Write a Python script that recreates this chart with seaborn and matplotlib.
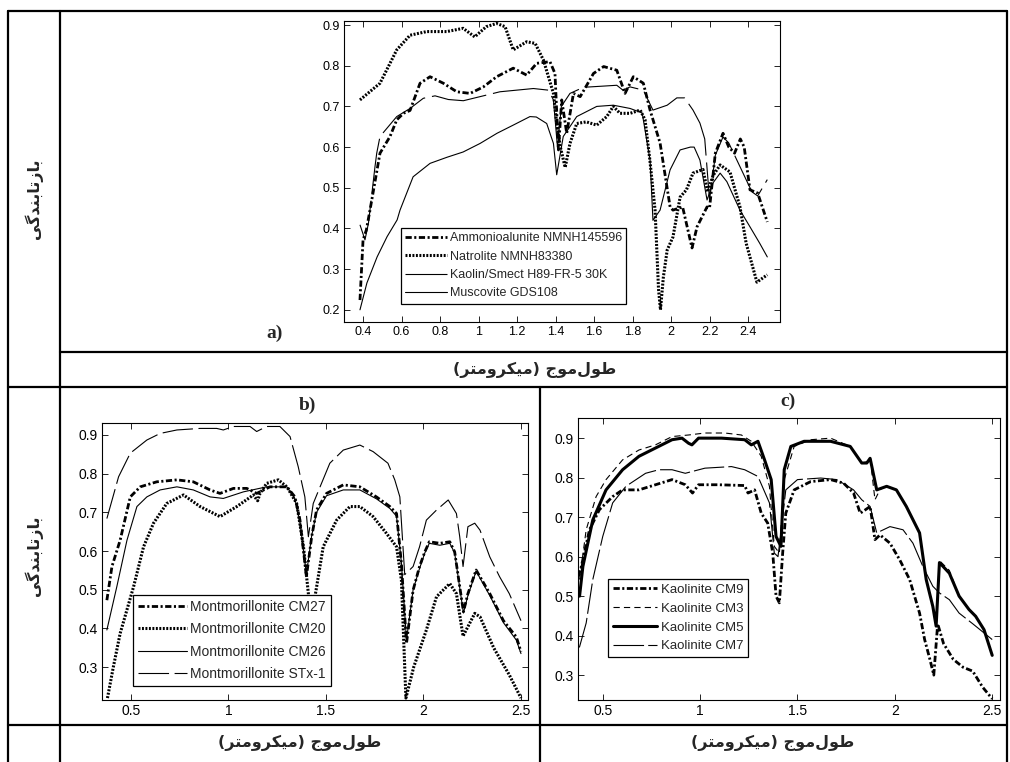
import matplotlib
matplotlib.use("Agg")
import matplotlib.pyplot as plt
import seaborn as sns

# ---- panel a: spectra ----
ammon_x = [0.384, 0.40, 0.417, 0.436, 0.488, 0.54, 0.575, 0.61, 0.644, 0.696, 0.748, 0.817, 0.887, 0.956,
           1.025, 1.094, 1.18, 1.25, 1.302, 1.371, 1.397, 1.415, 1.432, 1.458, 1.493, 1.528, 1.597, 1.65,
           1.718, 1.761, 1.804, 1.856, 1.891, 1.943, 1.995, 2.01, 2.06, 2.109, 2.135, 2.187, 2.2, 2.23,
           2.27, 2.30, 2.33, 2.36, 2.38, 2.41, 2.45, 2.5]
ammon_y = [0.224, 0.372, 0.396, 0.445, 0.585, 0.626, 0.667, 0.683, 0.69, 0.757, 0.773, 0.757, 0.736, 0.732,
           0.748, 0.773, 0.794, 0.777, 0.806, 0.81, 0.781, 0.593, 0.716, 0.634, 0.732, 0.724, 0.781, 0.798,
           0.789, 0.732, 0.773, 0.757, 0.691, 0.61, 0.453, 0.445, 0.453, 0.352, 0.404, 0.453, 0.45, 0.585,
           0.634, 0.60, 0.585, 0.62, 0.60, 0.495, 0.487, 0.416]

natro_x = [0.384, 0.488, 0.575, 0.644, 0.73, 0.835, 0.92, 0.98, 1.04, 1.094, 1.138, 1.18, 1.25, 1.294,
           1.337, 1.389, 1.406, 1.425, 1.45, 1.475, 1.51, 1.56, 1.614, 1.666, 1.70, 1.735, 1.787, 1.84,
           1.865, 1.89, 1.917, 1.935, 1.945, 1.96, 1.98, 2.01, 2.047, 2.08, 2.114, 2.166, 2.19, 2.218,
           2.255, 2.306, 2.358, 2.39, 2.446, 2.5]
natro_y = [0.716, 0.757, 0.839, 0.875, 0.884, 0.884, 0.892, 0.871, 0.896, 0.904, 0.896, 0.839, 0.859, 0.855,
           0.814, 0.732, 0.658, 0.60, 0.55, 0.609, 0.658, 0.662, 0.654, 0.675, 0.70, 0.683, 0.683, 0.691,
           0.667, 0.568, 0.445, 0.25, 0.20, 0.28, 0.347, 0.379, 0.477, 0.495, 0.536, 0.545, 0.49, 0.53,
           0.556, 0.539, 0.453, 0.364, 0.268, 0.286]

ks_x = [0.384, 0.41, 0.428, 0.462, 0.471, 0.488, 0.575, 0.644, 0.713, 0.774, 0.843, 0.921, 1.042, 1.111,
        1.285, 1.363, 1.389, 1.41, 1.43, 1.475, 1.545, 1.65, 1.718, 1.75, 1.787, 1.856, 1.906, 1.98, 2.03,
        2.07, 2.114, 2.15, 2.175, 2.2, 2.23, 2.27, 2.30, 2.34, 2.38, 2.42, 2.45, 2.5]
ks_y = [0.409, 0.372, 0.413, 0.552, 0.585, 0.626, 0.675, 0.695, 0.72, 0.726, 0.717, 0.714, 0.728, 0.736,
        0.744, 0.74, 0.716, 0.60, 0.70, 0.732, 0.747, 0.75, 0.752, 0.74, 0.748, 0.74, 0.691, 0.703, 0.721,
        0.721, 0.691, 0.659, 0.62, 0.47, 0.58, 0.625, 0.61, 0.57, 0.53, 0.49, 0.48, 0.52]

mus_x = [0.384, 0.42, 0.473, 0.525, 0.577, 0.592, 0.66, 0.748, 0.836, 0.92, 1.008, 1.096, 1.18, 1.267,
         1.30, 1.354, 1.389, 1.406, 1.44, 1.51, 1.614, 1.70, 1.787, 1.85, 1.891, 1.906, 1.943, 1.995,
         2.047, 2.1, 2.12, 2.15, 2.187, 2.218, 2.255, 2.29, 2.358, 2.41, 2.46, 2.5]
mus_y = [0.20, 0.266, 0.33, 0.38, 0.421, 0.445, 0.527, 0.56, 0.575, 0.588, 0.609, 0.634, 0.654, 0.675,
         0.674, 0.658, 0.609, 0.532, 0.626, 0.675, 0.70, 0.703, 0.695, 0.684, 0.568, 0.42, 0.445, 0.544,
         0.593, 0.60, 0.60, 0.568, 0.47, 0.512, 0.536, 0.515, 0.445, 0.404, 0.364, 0.33]

# ---- panel b: montmorillonites ----
cm27_x = [0.377, 0.403, 0.445, 0.497, 0.548, 0.633, 0.736, 0.82, 0.906, 0.957, 1.026, 1.094, 1.145, 1.213,
          1.3, 1.341, 1.367, 1.40, 1.427, 1.452, 1.503, 1.589, 1.674, 1.759, 1.828, 1.862, 1.887, 1.913,
          1.947, 1.98, 2.007, 2.03, 2.084, 2.135, 2.16, 2.186, 2.205, 2.228, 2.27, 2.34, 2.41, 2.476, 2.50]
cm27_y = [0.473, 0.56, 0.628, 0.74, 0.766, 0.779, 0.784, 0.779, 0.758, 0.749, 0.762, 0.762, 0.749, 0.766,
          0.766, 0.74, 0.68, 0.534, 0.637, 0.706, 0.749, 0.771, 0.766, 0.74, 0.715, 0.697, 0.568, 0.361,
          0.499, 0.56, 0.598, 0.624, 0.62, 0.624, 0.598, 0.508, 0.443, 0.49, 0.551, 0.49, 0.42, 0.378, 0.34]

cm20_x = [0.38, 0.41, 0.445, 0.514, 0.565, 0.616, 0.684, 0.77, 0.855, 0.957, 1.043, 1.128, 1.15, 1.162,
          1.196, 1.256, 1.3, 1.35, 1.385, 1.41, 1.42, 1.44, 1.486, 1.555, 1.623, 1.674, 1.742, 1.81, 1.862,
          1.887, 1.91, 1.95, 2.015, 2.067, 2.135, 2.169, 2.203, 2.263, 2.29, 2.36, 2.44, 2.5]
cm20_y = [0.22, 0.30, 0.387, 0.508, 0.611, 0.672, 0.723, 0.745, 0.715, 0.689, 0.715, 0.745, 0.73, 0.749,
          0.775, 0.784, 0.766, 0.723, 0.611, 0.49, 0.38, 0.47, 0.611, 0.68, 0.715, 0.715, 0.689, 0.646, 0.611,
          0.525, 0.22, 0.30, 0.396, 0.482, 0.516, 0.49, 0.38, 0.439, 0.43, 0.35, 0.28, 0.22]

cm26_x = [0.377, 0.428, 0.48, 0.531, 0.582, 0.65, 0.736, 0.82, 0.906, 0.974, 1.077, 1.196, 1.3, 1.341,
          1.367, 1.40, 1.427, 1.452, 1.503, 1.589, 1.674, 1.759, 1.828, 1.862, 1.887, 1.913, 1.947, 1.98,
          2.007, 2.03, 2.084, 2.135, 2.16, 2.186, 2.205, 2.228, 2.27, 2.34, 2.41, 2.476, 2.50]
cm26_y = [0.396, 0.508, 0.628, 0.715, 0.74, 0.758, 0.766, 0.758, 0.74, 0.736, 0.753, 0.766, 0.766, 0.735,
          0.675, 0.54, 0.64, 0.70, 0.743, 0.758, 0.758, 0.735, 0.71, 0.69, 0.57, 0.37, 0.50, 0.555,
          0.595, 0.62, 0.615, 0.62, 0.595, 0.505, 0.44, 0.485, 0.548, 0.485, 0.415, 0.37, 0.335]

stx_x = [0.377, 0.437, 0.497, 0.582, 0.65, 0.736, 0.855, 0.94, 0.974, 1.026, 1.111, 1.145, 1.196, 1.264,
         1.316, 1.358, 1.392, 1.41, 1.435, 1.47, 1.52, 1.589, 1.674, 1.742, 1.818, 1.853, 1.879, 1.904,
         1.947, 1.98, 2.015, 2.067, 2.127, 2.169, 2.186, 2.203, 2.228, 2.263, 2.29, 2.34, 2.39, 2.44, 2.5]
stx_y = [0.684, 0.792, 0.853, 0.887, 0.904, 0.913, 0.917, 0.917, 0.913, 0.922, 0.922, 0.909, 0.922, 0.922,
         0.896, 0.818, 0.74, 0.637, 0.723, 0.766, 0.827, 0.861, 0.874, 0.857, 0.827, 0.784, 0.74, 0.539,
         0.56, 0.611, 0.68, 0.706, 0.732, 0.697, 0.637, 0.56, 0.663, 0.672, 0.654, 0.585, 0.534, 0.49, 0.42]

# ---- panel c: kaolinites ----
cm9_x = [0.375, 0.39, 0.432, 0.483, 0.551, 0.602, 0.686, 0.771, 0.856, 0.924, 0.961, 0.992, 1.093, 1.229,
         1.246, 1.28, 1.314, 1.347, 1.373, 1.39, 1.407, 1.424, 1.44, 1.483, 1.568, 1.67, 1.737, 1.788,
         1.822, 1.847, 1.873, 1.898, 1.924, 1.975, 2.025, 2.076, 2.127, 2.153, 2.18, 2.20, 2.22, 2.25,
         2.3, 2.35, 2.4, 2.45, 2.5]
cm9_y = [0.55, 0.575, 0.668, 0.719, 0.752, 0.769, 0.769, 0.782, 0.795, 0.782, 0.761, 0.782, 0.782, 0.78,
         0.761, 0.769, 0.71, 0.685, 0.609, 0.50, 0.483, 0.609, 0.71, 0.769, 0.79, 0.795, 0.786, 0.761,
         0.71, 0.718, 0.727, 0.643, 0.655, 0.634, 0.592, 0.542, 0.457, 0.39, 0.34, 0.30, 0.43, 0.38,
         0.34, 0.32, 0.31, 0.27, 0.24]

cm3_x = [0.381, 0.415, 0.466, 0.517, 0.602, 0.686, 0.771, 0.856, 0.941, 1.025, 1.127, 1.212, 1.263, 1.314,
         1.356, 1.381, 1.407, 1.432, 1.483, 1.568, 1.67, 1.771, 1.83, 1.856, 1.873, 1.898, 1.924, 1.958,
         2.008, 2.059, 2.127, 2.161, 2.195, 2.212, 2.229, 2.28, 2.33, 2.381, 2.415, 2.458, 2.5]
cm3_y = [0.542, 0.668, 0.752, 0.795, 0.845, 0.87, 0.883, 0.904, 0.908, 0.913, 0.913, 0.908, 0.892, 0.854,
         0.778, 0.626, 0.609, 0.795, 0.879, 0.896, 0.9, 0.879, 0.837, 0.84, 0.85, 0.744, 0.77, 0.778,
         0.769, 0.727, 0.66, 0.542, 0.474, 0.424, 0.59, 0.565, 0.5, 0.466, 0.449, 0.415, 0.35]

cm5_x = [0.381, 0.398, 0.449, 0.517, 0.602, 0.686, 0.771, 0.856, 0.907, 0.941, 0.958, 0.992, 1.11, 1.229,
         1.263, 1.297, 1.331, 1.365, 1.39, 1.415, 1.432, 1.466, 1.534, 1.67, 1.771, 1.83, 1.856, 1.873,
         1.907, 1.958, 2.008, 2.059, 2.127, 2.161, 2.195, 2.212, 2.229, 2.28, 2.33, 2.381, 2.415, 2.458, 2.5]
cm5_y = [0.5, 0.575, 0.693, 0.769, 0.82, 0.854, 0.875, 0.896, 0.90, 0.887, 0.883, 0.90, 0.90, 0.896,
         0.883, 0.892, 0.845, 0.795, 0.651, 0.626, 0.82, 0.879, 0.892, 0.892, 0.879, 0.837, 0.837, 0.849,
         0.769, 0.778, 0.769, 0.727, 0.66, 0.542, 0.474, 0.424, 0.585, 0.558, 0.50, 0.466, 0.449, 0.415, 0.35]

cm7_x = [0.38, 0.415, 0.449, 0.5, 0.551, 0.619, 0.72, 0.788, 0.856, 0.924, 1.025, 1.161, 1.229, 1.297,
         1.356, 1.381, 1.40, 1.44, 1.5, 1.619, 1.703, 1.788, 1.83, 1.873, 1.907, 1.975, 2.042, 2.093,
         2.144, 2.195, 2.229, 2.28, 2.33, 2.4, 2.45, 2.5]
cm7_y = [0.37, 0.432, 0.542, 0.651, 0.736, 0.778, 0.811, 0.82, 0.82, 0.811, 0.824, 0.828, 0.82, 0.803,
         0.736, 0.609, 0.60, 0.769, 0.795, 0.799, 0.795, 0.769, 0.744, 0.727, 0.66, 0.676, 0.668, 0.634,
         0.575, 0.525, 0.508, 0.491, 0.457, 0.43, 0.41, 0.39]

# ---- labels ----
ylabel_fa = "بازتابندگی"
xlabel_fa = "طول\u200cموج (میکرومتر)"

# minimal Persian shaping (presentation forms, right-to-left)
FORMS = {
    'ا': ('\uFE8D', '\uFE8E', None, None),
    'ب': ('\uFE8F', '\uFE90', '\uFE91', '\uFE92'),
    'ت': ('\uFE95', '\uFE96', '\uFE97', '\uFE98'),
    'ج': ('\uFE9D', '\uFE9E', '\uFE9F', '\uFEA0'),
    'د': ('\uFEA9', '\uFEAA', None, None),
    'ر': ('\uFEAD', '\uFEAE', None, None),
    'ز': ('\uFEAF', '\uFEB0', None, None),
    'ط': ('\uFEC1', '\uFEC2', '\uFEC3', '\uFEC4'),
    'ل': ('\uFEDD', '\uFEDE', '\uFEDF', '\uFEE0'),
    'م': ('\uFEE1', '\uFEE2', '\uFEE3', '\uFEE4'),
    'ن': ('\uFEE5', '\uFEE6', '\uFEE7', '\uFEE8'),
    'و': ('\uFEED', '\uFEEE', None, None),
    'ک': ('\uFB8E', '\uFB8F', '\uFB90', '\uFB91'),
    'گ': ('\uFB92', '\uFB93', '\uFB94', '\uFB95'),
    'ی': ('\uFBFC', '\uFBFD', '\uFBFE', '\uFBFF'),
}


def shape(s):
    out = []
    for i, c in enumerate(s):
        if c not in FORMS:
            out.append(c)
            continue
        prev = s[i - 1] if i > 0 else ''
        nxt = s[i + 1] if i + 1 < len(s) else ''
        jp = prev in FORMS and FORMS[prev][2] is not None
        jn = FORMS[c][2] is not None and nxt in FORMS
        out.append(FORMS[c][3 if (jp and jn) else 1 if jp else 2 if jn else 0])
    vis = ''.join(reversed([ch for ch in out if ch != '\u200c']))
    return vis.translate(str.maketrans('()', ')('))


sns.set_style("ticks")
plt.rcParams['font.family'] = ['Liberation Sans', 'DejaVu Sans']
plt.rcParams['lines.scale_dashes'] = False
plt.rcParams['xtick.direction'] = 'in'
plt.rcParams['ytick.direction'] = 'in'
plt.rcParams['xtick.top'] = True
plt.rcParams['ytick.right'] = True

W, H = 1010, 762
fig = plt.figure(figsize=(W / 100, H / 100), dpi=100)


def px_axes(x0, y0, x1, y1):
    return fig.add_axes([x0 / W, 1 - y1 / H, (x1 - x0) / W, (y1 - y0) / H])


def draw(ax, x, y, label, lw, dashes=None):
    sns.lineplot(x=x, y=y, ax=ax, color='k', lw=lw, sort=False, estimator=None)
    line = ax.lines[-1]
    line.set_label(label)
    if dashes:
        line.set_dashes(dashes)
        line.set_dash_capstyle('butt')


DASHDOT = (4.5, 1.8, 1.5, 1.8)
DOTTED = (1.4, 1.1)


def style(ax, xlim, ylim, xticks, xlabels, yticks, fs):
    ax.set_xlim(*xlim)
    ax.set_ylim(*ylim)
    ax.set_xticks(xticks)
    ax.set_xticklabels(xlabels)
    ax.set_yticks(yticks)
    ax.set_yticklabels([f"{v:.1f}" for v in yticks])
    ax.tick_params(length=4, width=0.6, labelsize=fs, pad=3, colors='k')
    for sp in ax.spines.values():
        sp.set_linewidth(0.8)
        sp.set_color('k')
    ax.set_xlabel('')
    ax.set_ylabel('')


def legend(ax, anchor, fs, hl, spacing):
    leg = ax.legend(loc='upper left', bbox_to_anchor=anchor, fontsize=fs, handlelength=hl,
                    handletextpad=0.25, labelspacing=spacing, borderpad=0.35, borderaxespad=0,
                    fancybox=False, framealpha=1, edgecolor='k')
    leg.get_frame().set_linewidth(0.9)


# panel a
ax_a = px_axes(344, 21, 780, 322)
draw(ax_a, ammon_x, ammon_y, "Ammonioalunite NMNH145596", 2.0, DASHDOT)
draw(ax_a, natro_x, natro_y, "Natrolite NMNH83380", 2.2, DOTTED)
draw(ax_a, ks_x, ks_y, "Kaolin/Smect H89-FR-5 30K", 0.8, (40, 5))
draw(ax_a, mus_x, mus_y, "Muscovite GDS108", 0.8)
style(ax_a, (0.301, 2.566), (0.170, 0.91),
      [0.4, 0.6, 0.8, 1.0, 1.2, 1.4, 1.6, 1.8, 2.0, 2.2, 2.4],
      ["0.4", "0.6", "0.8", "1", "1.2", "1.4", "1.6", "1.8", "2", "2.2", "2.4"],
      [0.2, 0.3, 0.4, 0.5, 0.6, 0.7, 0.8, 0.9], 9)
legend(ax_a, (0.131, 0.312), 9, 3.3, 0.5)

# panel b
ax_b = px_axes(102, 423, 528, 700)
draw(ax_b, cm27_x, cm27_y, "Montmorillonite CM27", 2.0, DASHDOT)
draw(ax_b, cm20_x, cm20_y, "Montmorillonite CM20", 2.2, DOTTED)
draw(ax_b, cm26_x, cm26_y, "Montmorillonite CM26", 0.8)
draw(ax_b, stx_x, stx_y, "Montmorillonite STx-1", 0.8, (22, 4))
style(ax_b, (0.352, 2.536), (0.215, 0.931), [0.5, 1.0, 1.5, 2.0, 2.5],
      ["0.5", "1", "1.5", "2", "2.5"], [0.3, 0.4, 0.5, 0.6, 0.7, 0.8, 0.9], 10)
legend(ax_b, (0.073, 0.379), 10, 3.5, 0.6)

# panel c
ax_c = px_axes(578, 418, 1000, 700)
draw(ax_c, cm9_x, cm9_y, "Kaolinite CM9", 2.0, DASHDOT)
draw(ax_c, cm3_x, cm3_y, "Kaolinite CM3", 0.8, (4.5, 3))
draw(ax_c, cm5_x, cm5_y, "Kaolinite CM5", 2.2)
draw(ax_c, cm7_x, cm7_y, "Kaolinite CM7", 0.8, (22, 3))
style(ax_c, (0.373, 2.54), (0.237, 0.951), [0.5, 1.0, 1.5, 2.0, 2.5],
      ["0.5", "1", "1.5", "2", "2.5"], [0.3, 0.4, 0.5, 0.6, 0.7, 0.8, 0.9], 10)
legend(ax_c, (0.071, 0.429), 9.5, 3.4, 0.5)


# table grid
def hline(y, x0, x1):
    fig.add_artist(plt.Line2D([x0 / W, x1 / W], [1 - y / H, 1 - y / H], color='k', lw=1.6))


def vline(x, y0, y1):
    fig.add_artist(plt.Line2D([x / W, x / W], [1 - y0 / H, 1 - y1 / H], color='k', lw=1.6))


hline(11, 8, 1007)
hline(352, 60, 1007)
hline(387, 8, 1007)
hline(725, 8, 1007)
vline(8, 11, 762)
vline(60, 11, 762)
vline(1007, 11, 762)
vline(540, 387, 762)

fa_font = dict(family=['DejaVu Sans'], fontweight='bold', fontsize=11.5, ha='center', va='center')
fig.text(34 / W, 1 - 199 / H, shape(ylabel_fa), rotation=90, **fa_font)
fig.text(34 / W, 1 - 556 / H, shape(ylabel_fa), rotation=90, **fa_font)
fig.text(535 / W, 1 - 370 / H, shape(xlabel_fa), **fa_font)
fig.text(300 / W, 1 - 743 / H, shape(xlabel_fa), **fa_font)
fig.text(773 / W, 1 - 743 / H, shape(xlabel_fa), **fa_font)

panel_font = dict(family='Liberation Serif', fontweight='bold', fontsize=14, ha='center', va='center')
fig.text(275 / W, 1 - 333 / H, "a)", **panel_font)
fig.text(307 / W, 1 - 405 / H, "b)", **panel_font)
fig.text(788 / W, 1 - 401 / H, "c)", **panel_font)

fig.savefig("out.png", dpi=100, facecolor='white')
